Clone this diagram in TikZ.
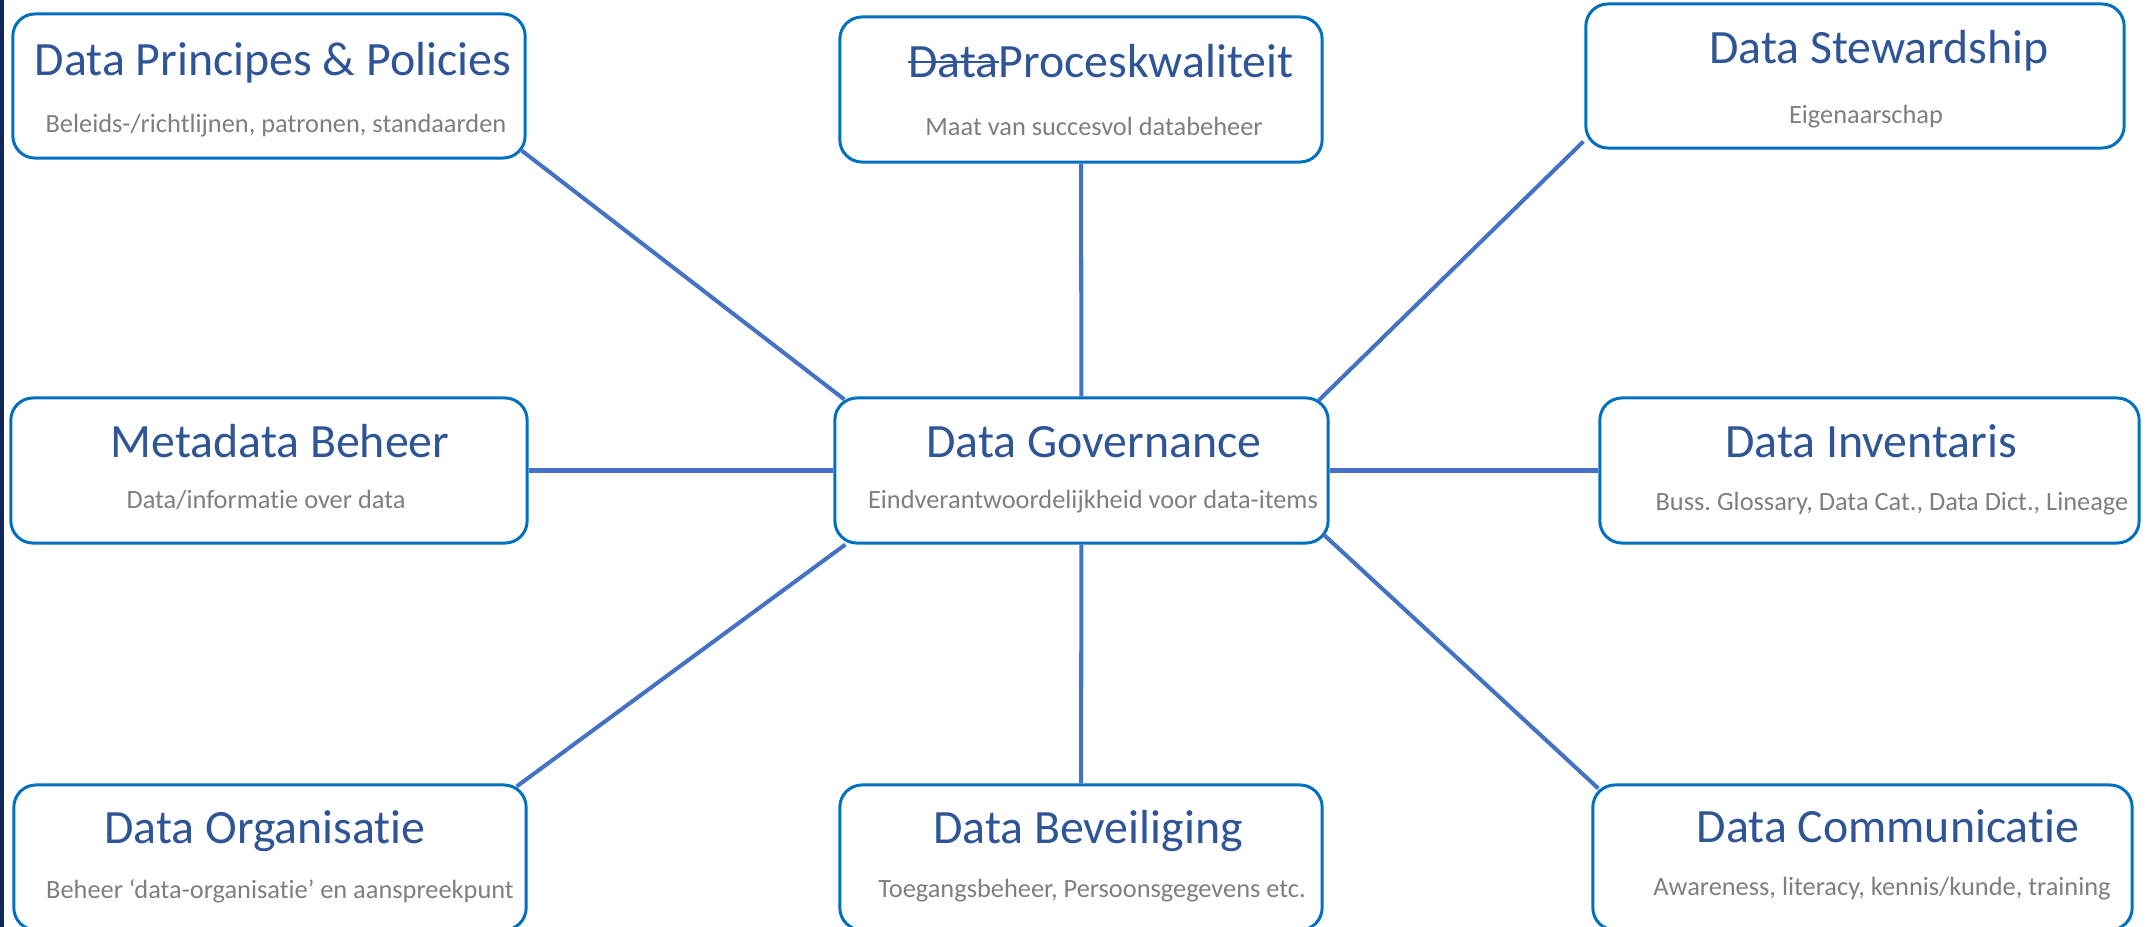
\documentclass[tikz,border=0pt]{standalone}
\usepackage{fontspec}
\setmainfont{Carlito}[Ligatures=NoCommon]
\usepackage{xcolor}
\usepackage{tikz}
\usetikzlibrary{positioning,calc}
\frenchspacing

\definecolor{boxline}{RGB}{0,112,192}
\definecolor{linkline}{RGB}{68,114,196}
\definecolor{titleblue}{RGB}{47,85,151}
\definecolor{subgray}{RGB}{127,127,127}
\definecolor{navystrip}{RGB}{16,40,90}

% struck-through word
\newcommand{\strk}[1]{\setbox0\hbox{#1}\rlap{\rule[0.3em]{\wd0}{0.6pt}}\box0}

\begin{document}
\begin{tikzpicture}[
  x=0.01cm, y=-0.01cm,
  topic/.style={rectangle, draw=boxline, line width=0.85pt, rounded corners=6.3pt,
    fill=white, minimum height=1.45cm, inner sep=0pt},
  link/.style={draw=linkline, line width=1.15pt},
  ttl/.style={anchor=base, inner sep=0pt, text=titleblue, font=\fontsize{13.6}{16}\selectfont},
  sub/.style={anchor=base, inner sep=0pt, text=subgray, font=\fontsize{7.5}{9}\selectfont},
]
  \useasboundingbox (0,0) rectangle (2153,927);
  \fill[navystrip] (0,0) rectangle (4,927);

  % Boxes
  \node[topic, minimum width=5.12cm, minimum height=1.44cm] (pol) at (269,86) {};
  \node[topic, minimum width=4.82cm] (pro) at (1081,89.5) {};
  \node[topic, minimum width=5.38cm, minimum height=1.44cm] (ste) at (1855,76) {};
  \node[topic, minimum width=5.16cm] (met) at (269,470.5) {};
  \node[topic, minimum width=4.93cm] (gov) at (1081.5,470.5) {};
  \node[topic, minimum width=5.39cm] (inv) at (1869.5,470.5) {};
  \node[topic, minimum width=5.12cm] (org) at (270,857.5) {};
  \node[topic, minimum width=4.82cm] (bev) at (1081,857.5) {};
  \node[topic, minimum width=5.39cm] (com) at (1862.5,857.5) {};

  % Titles and subtitles
  \node[ttl] (pol-t) at (273,75) {Data Principes \& Policies};
  \node[sub] (pol-s) at (276,132) {Beleids-/richtlijnen, patronen, standaarden};
  \node[ttl] (pro-t) at (1101,77) {\strk{Data}Proceskwaliteit};
  \node[sub] (pro-s) at (1094,135) {Maat van succesvol databeheer};
  \node[ttl] (ste-t) at (1879,63) {Data Stewardship};
  \node[sub] (ste-s) at (1866,123) {Eigenaarschap};
  \node[ttl] (met-t) at (280,457) {Metadata Beheer};
  \node[sub] (met-s) at (266,508) {Data/informatie over data};
  \node[ttl] (gov-t) at (1094,457) {Data Governance};
  \node[sub] (gov-s) at (1093,508) {Eindverantwoordelijkheid voor data-items};
  \node[ttl] (inv-t) at (1871,457) {Data Inventaris};
  \node[sub] (inv-s) at (1892,510) {Buss. Glossary, Data Cat., Data Dict., Lineage};
  \node[ttl] (org-t) at (265,843) {Data Organisatie};
  \node[sub] (org-s) at (280,898) {Beheer ‘data-organisatie’ en aanspreekpunt};
  \node[ttl] (bev-t) at (1088,843) {Data Beveiliging};
  \node[sub] (bev-s) at (1092,897) {Toegangsbeheer, Persoonsgegevens etc.};
  \node[ttl] (com-t) at (1888,842) {Data Communicatie};
  \node[sub] (com-s) at (1882,895) {Awareness, literacy, kennis/kunde, training};

  % Connectors
  \draw[link] ([shift={(-5,-9)}]pol.south east) -- ([shift={(11,3)}]gov.north west);
  \draw[link] (pro) -- (gov);
  \draw[link] ([shift={(-1,-8)}]ste.south west) -- ([shift={(-11,4)}]gov.north east);
  \draw[link] (met) -- (gov);
  \draw[link] (gov) -- (inv);
  \draw[link] ([shift={(-11,3)}]org.north east) -- ([shift={(12,0)}]gov.south west);
  \draw[link] (gov) -- (bev);
  \draw[link] ([shift={(-6,-10)}]gov.south east) -- ([shift={(7,5)}]com.north west);
\end{tikzpicture}
\end{document}
